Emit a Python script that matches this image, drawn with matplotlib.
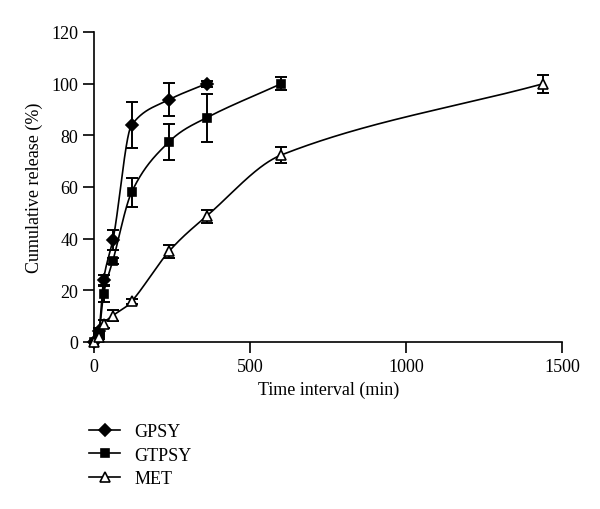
import numpy as np
import matplotlib
matplotlib.use("Agg")
import matplotlib.pyplot as plt
from matplotlib.lines import Line2D

plt.rcParams["font.family"] = ["Liberation Serif", "DejaVu Serif"]

# release data (time in min, cumulative release in %)
t_gpsy = [0, 15, 30, 60, 120, 240, 360]
y_gpsy = [0, 4.4, 24, 39.5, 84, 93.8, 100]
e_gpsy = [0, 1.0, 2.0, 4.0, 8.8, 6.3, 1.2]

t_gtpsy = [0, 15, 30, 60, 120, 240, 360, 600]
y_gtpsy = [0, 3.1, 18.5, 31.5, 58, 77.5, 86.8, 100]
e_gtpsy = [0, 1.0, 3.0, 1.2, 5.6, 7.0, 9.2, 2.5]

t_met = [0, 15, 30, 60, 120, 240, 360, 600, 1440]
y_met = [0, 2.0, 7.0, 10.2, 15.7, 35.1, 48.7, 72.4, 100]
e_met = [0, 0.8, 1.5, 2.0, 1.0, 2.5, 2.5, 3.0, 3.5]

labels = ["GPSY", "GTPSY", "MET"]


def hermite(x, y, m, xs):
    h = np.diff(x)
    k = np.clip(np.searchsorted(x, xs, side="right") - 1, 0, len(x) - 2)
    t = (xs - x[k]) / h[k]
    h00 = 2 * t**3 - 3 * t**2 + 1; h10 = t**3 - 2 * t**2 + t
    h01 = -2 * t**3 + 3 * t**2; h11 = t**3 - t**2
    return h00 * y[k] + h10 * h[k] * m[k] + h01 * y[k + 1] + h11 * h[k] * m[k + 1]


def pchip(x, y, xs):
    x = np.asarray(x, float); y = np.asarray(y, float)
    h = np.diff(x); d = np.diff(y) / h
    m = np.zeros(len(x))
    for k in range(1, len(x) - 1):
        if d[k - 1] * d[k] > 0:
            w1 = 2 * h[k] + h[k - 1]; w2 = h[k] + 2 * h[k - 1]
            m[k] = (w1 + w2) / (w1 / d[k - 1] + w2 / d[k])
    m[0] = d[0]; m[-1] = d[-1]
    return hermite(x, y, m, xs)


def cardinal(x, y, xs):
    # central-difference slopes, clamped so the curve stays monotone
    x = np.asarray(x, float); y = np.asarray(y, float)
    d = np.diff(y) / np.diff(x)
    m = np.zeros(len(x))
    m[1:-1] = (y[2:] - y[:-2]) / (x[2:] - x[:-2])
    m[0] = d[0]; m[-1] = d[-1]
    for k in range(1, len(x) - 1):
        m[k] = min(m[k], 3 * d[k - 1], 3 * d[k])
    return hermite(x, y, m, xs)


fig = plt.figure(figsize=(6, 5.1), dpi=100)
ax = fig.add_axes([0.157, 0.3275, 0.78, 0.6078])

series = [(t_gpsy, y_gpsy, e_gpsy, "D", "k", 6, pchip),
          (t_gtpsy, y_gtpsy, e_gtpsy, "s", "k", 5.5, cardinal),
          (t_met, y_met, e_met, "^", "white", 6.5, cardinal)]
handles = []
for (t, y, e, mk, fc, ms, fn), lab in zip(series, labels):
    xs = np.linspace(t[0], t[-1], 800)
    ax.plot(xs, fn(t, y, xs), color="k", lw=1.2, zorder=2)
    ax.errorbar(t, y, yerr=e, fmt="none", ecolor="k", elinewidth=1.4, capsize=4, capthick=1.4, zorder=3)
    ax.plot(t, y, ls="none", marker=mk, ms=ms, mfc=fc, mec="k", mew=1.2, zorder=4)
    handles.append(Line2D([], [], color="k", lw=1.2, marker=mk, ms=ms, mfc=fc, mec="k", mew=1.2))

ax.set_xlim(0, 1500)
ax.set_ylim(0, 120)
ax.set_xticks([0, 500, 1000, 1500])
ax.set_yticks(range(0, 121, 20))
for s in ("top", "right"):
    ax.spines[s].set_visible(False)
ax.tick_params(direction="out", length=8, width=1.2, labelsize=13)
ax.spines["left"].set_linewidth(1.2); ax.spines["bottom"].set_linewidth(1.2)
for art in ax.get_children():
    art.set_clip_on(False)
ax.set_xlabel("Time interval (min)", fontsize=13)
ax.set_ylabel("Cumulative release (%)", fontsize=13, labelpad=6)

fig.legend(handles, labels, loc="upper left", bbox_to_anchor=(0.122, 1 - 408 / 510),
           bbox_transform=fig.transFigure, frameon=False, fontsize=13,
           handlelength=1.7, handletextpad=0.8, labelspacing=0.35)

plt.savefig("out.png", dpi=100)
